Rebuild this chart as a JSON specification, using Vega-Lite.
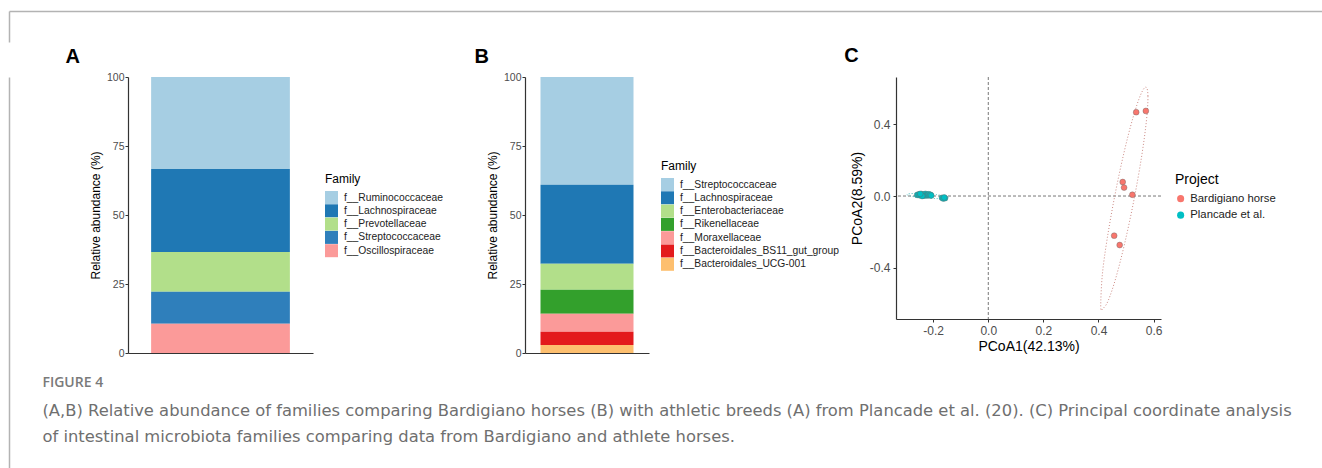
{
  "$schema": "https://vega.github.io/schema/vega-lite/v6.json",
  "padding": {"left": 6, "top": 11, "right": 0, "bottom": 0},
  "background": "#ffffff",
  "config": {
    "view": {"stroke": null},
    "font": "Liberation Sans",
    "axis": {"grid": false, "domainColor": "#333333", "tickColor": "#333333", "labelColor": "#4d4d4d", "titleColor": "#000000", "titleFontWeight": "normal", "labelFont": "Liberation Sans", "titleFont": "Liberation Sans"},
    "legend": {"labelFont": "Liberation Sans", "titleFont": "Liberation Sans", "titleFontWeight": "normal", "labelColor": "#222222", "titleColor": "#000000", "labelLimit": 300}
  },
  "datasets": {
    "famA": [
      {"Sample": "Plancade", "Family": "f__Ruminococcaceae", "Abundance": 33.3, "Rank": 5},
      {"Sample": "Plancade", "Family": "f__Lachnospiraceae", "Abundance": 30.1, "Rank": 4},
      {"Sample": "Plancade", "Family": "f__Prevotellaceae", "Abundance": 14.4, "Rank": 3},
      {"Sample": "Plancade", "Family": "f__Streptococcaceae", "Abundance": 11.6, "Rank": 2},
      {"Sample": "Plancade", "Family": "f__Oscillospiraceae", "Abundance": 10.6, "Rank": 1}
    ],
    "famB": [
      {"Sample": "Bardigiano", "Family": "f__Streptococcaceae", "Abundance": 39.0, "Rank": 7},
      {"Sample": "Bardigiano", "Family": "f__Lachnospiraceae", "Abundance": 28.7, "Rank": 6},
      {"Sample": "Bardigiano", "Family": "f__Enterobacteriaceae", "Abundance": 9.4, "Rank": 5},
      {"Sample": "Bardigiano", "Family": "f__Rikenellaceae", "Abundance": 8.7, "Rank": 4},
      {"Sample": "Bardigiano", "Family": "f__Moraxellaceae", "Abundance": 6.5, "Rank": 3},
      {"Sample": "Bardigiano", "Family": "f__Bacteroidales_BS11_gut_group", "Abundance": 4.8, "Rank": 2},
      {"Sample": "Bardigiano", "Family": "f__Bacteroidales_UCG-001", "Abundance": 2.9, "Rank": 1}
    ],
    "pcoa": [
      {"Project": "Bardigiano horse", "PC1": 0.537, "PC2": 0.467},
      {"Project": "Bardigiano horse", "PC1": 0.572, "PC2": 0.474},
      {"Project": "Bardigiano horse", "PC1": 0.488, "PC2": 0.078},
      {"Project": "Bardigiano horse", "PC1": 0.493, "PC2": 0.047},
      {"Project": "Bardigiano horse", "PC1": 0.523, "PC2": 0.007},
      {"Project": "Bardigiano horse", "PC1": 0.457, "PC2": -0.221},
      {"Project": "Bardigiano horse", "PC1": 0.477, "PC2": -0.273},
      {"Project": "Plancade et al.", "PC1": -0.258, "PC2": 0.006},
      {"Project": "Plancade et al.", "PC1": -0.253, "PC2": 0.009},
      {"Project": "Plancade et al.", "PC1": -0.249, "PC2": 0.004},
      {"Project": "Plancade et al.", "PC1": -0.245, "PC2": 0.008},
      {"Project": "Plancade et al.", "PC1": -0.242, "PC2": 0.011},
      {"Project": "Plancade et al.", "PC1": -0.239, "PC2": 0.005},
      {"Project": "Plancade et al.", "PC1": -0.236, "PC2": 0.002},
      {"Project": "Plancade et al.", "PC1": -0.233, "PC2": 0.009},
      {"Project": "Plancade et al.", "PC1": -0.230, "PC2": 0.006},
      {"Project": "Plancade et al.", "PC1": -0.228, "PC2": 0.012},
      {"Project": "Plancade et al.", "PC1": -0.225, "PC2": 0.003},
      {"Project": "Plancade et al.", "PC1": -0.222, "PC2": 0.008},
      {"Project": "Plancade et al.", "PC1": -0.219, "PC2": 0.005},
      {"Project": "Plancade et al.", "PC1": -0.216, "PC2": 0.010},
      {"Project": "Plancade et al.", "PC1": -0.213, "PC2": 0.004},
      {"Project": "Plancade et al.", "PC1": -0.210, "PC2": 0.007},
      {"Project": "Plancade et al.", "PC1": -0.207, "PC2": 0.003},
      {"Project": "Plancade et al.", "PC1": -0.240, "PC2": 0.000},
      {"Project": "Plancade et al.", "PC1": -0.247, "PC2": 0.012},
      {"Project": "Plancade et al.", "PC1": -0.168, "PC2": -0.010},
      {"Project": "Plancade et al.", "PC1": -0.163, "PC2": -0.014},
      {"Project": "Plancade et al.", "PC1": -0.157, "PC2": -0.012},
      {"Project": "Plancade et al.", "PC1": -0.160, "PC2": -0.008}
    ],
    "ellBard": [
      {"Idx": 0, "PC1": 0.5723, "PC2": 0.6065},
      {"Idx": 1, "PC1": 0.5796, "PC2": 0.5555},
      {"Idx": 2, "PC1": 0.5740, "PC2": 0.4184},
      {"Idx": 3, "PC1": 0.5562, "PC2": 0.2160},
      {"Idx": 4, "PC1": 0.5289, "PC2": -0.0209},
      {"Idx": 5, "PC1": 0.4963, "PC2": -0.2560},
      {"Idx": 6, "PC1": 0.4633, "PC2": -0.4547},
      {"Idx": 7, "PC1": 0.4349, "PC2": -0.5842},
      {"Idx": 8, "PC1": 0.4157, "PC2": -0.6270},
      {"Idx": 9, "PC1": 0.4083, "PC2": -0.6188},
      {"Idx": 10, "PC1": 0.4140, "PC2": -0.4389},
      {"Idx": 11, "PC1": 0.4318, "PC2": -0.2365},
      {"Idx": 12, "PC1": 0.4591, "PC2": 0.0004},
      {"Idx": 13, "PC1": 0.4917, "PC2": 0.2355},
      {"Idx": 14, "PC1": 0.5247, "PC2": 0.4333},
      {"Idx": 15, "PC1": 0.5530, "PC2": 0.5637}
    ],
    "ellPlan": [
      {"Idx": 0, "PC1": -0.145, "PC2": -0.008},
      {"Idx": 1, "PC1": -0.155, "PC2": -0.0009},
      {"Idx": 2, "PC1": -0.1825, "PC2": 0.0064},
      {"Idx": 3, "PC1": -0.220, "PC2": 0.012},
      {"Idx": 4, "PC1": -0.2575, "PC2": 0.0144},
      {"Idx": 5, "PC1": -0.285, "PC2": 0.0129},
      {"Idx": 6, "PC1": -0.295, "PC2": 0.008},
      {"Idx": 7, "PC1": -0.285, "PC2": 0.0009},
      {"Idx": 8, "PC1": -0.2575, "PC2": -0.0064},
      {"Idx": 9, "PC1": -0.220, "PC2": -0.012},
      {"Idx": 10, "PC1": -0.1825, "PC2": -0.0144},
      {"Idx": 11, "PC1": -0.155, "PC2": -0.0129}
    ]
  },
  "resolve": {"scale": {"x": "independent", "y": "independent", "color": "independent"}, "legend": {"color": "independent"}, "axis": {"x": "independent", "y": "independent"}},
  "spacing": 0,
  "vconcat": [
    {
      "width": 1313,
      "height": 31,
      "data": {"values": [{"v": 0}]},
      "mark": {"type": "point", "opacity": 0},
      "encoding": {
        "x": {"field": "v", "type": "quantitative", "scale": {"domain": [0, 1]}, "axis": {"orient": "top", "labels": false, "ticks": false, "title": null, "domainColor": "#b3b3b3", "domainWidth": 1.5}},
        "y": {"field": "v", "type": "quantitative", "scale": {"domain": [0, 1]}, "axis": {"orient": "left", "labels": false, "ticks": false, "title": null, "domainColor": "#b3b3b3", "domainWidth": 1.5}}
      }
    },
    {
      "spacing": 30,
      "resolve": {"scale": {"x": "independent", "y": "independent", "color": "independent"}, "legend": {"color": "independent"}, "axis": {"x": "independent", "y": "independent"}},
      "hconcat": [
        {
          "width": 0.01,
          "height": 424,
          "data": {"values": [{"v": 0}]},
          "mark": {"type": "point", "opacity": 0},
          "encoding": {
            "y": {"field": "v", "type": "quantitative", "scale": {"domain": [0, 1]}, "axis": {"orient": "left", "labels": false, "ticks": false, "title": null, "domainColor": "#b3b3b3", "domainWidth": 1.5}}
          }
        },
        {
          "title": {
            "text": "FIGURE 4",
            "subtitle": [
              "(A,B) Relative abundance of families comparing Bardigiano horses (B) with athletic breeds (A) from Plancade et al. (20). (C) Principal coordinate analysis",
              "of intestinal microbiota families comparing data from Bardigiano and athlete horses."
            ],
            "orient": "bottom",
            "anchor": "start",
            "frame": "bounds",
            "dx": -23,
            "offset": 17,
            "font": "Open Sans",
            "fontSize": 14,
            "fontWeight": 600,
            "color": "#7a7a7a",
            "subtitleFont": "DejaVu Sans",
            "subtitleFontSize": 16.35,
            "subtitleColor": "#6f6f6f",
            "subtitleLineHeight": 26,
            "subtitlePadding": 13
          },
          "spacing": 5,
          "resolve": {"scale": {"x": "independent", "y": "independent", "color": "independent"}, "legend": {"color": "independent"}},
          "hconcat": [
            {
              "spacing": 30,
              "resolve": {"scale": {"color": "independent", "x": "independent", "y": "independent"}, "legend": {"color": "independent"}},
              "hconcat": [
                {
                  "title": {"text": "A", "anchor": "start", "frame": "bounds", "fontSize": 20, "fontWeight": "bold", "color": "#000000", "dx": -24, "offset": 5},
                  "width": 185,
                  "height": 276,
                  "data": {"name": "famA"},
                  "mark": {"type": "bar"},
                  "encoding": {
                    "x": {"field": "Sample", "type": "nominal", "scale": {"paddingInner": 0.25, "paddingOuter": 0.125}, "axis": {"labels": false, "ticks": false, "title": null, "domainWidth": 1.2}},
                    "y": {"field": "Abundance", "type": "quantitative", "stack": "zero", "scale": {"domain": [0, 100], "nice": false}, "axis": {"values": [0, 25, 50, 75, 100], "title": "Relative abundance (%)", "titleFontSize": 12, "titlePadding": 4, "labelFontSize": 10.5, "tickSize": 3, "labelPadding": 1, "domainWidth": 1.2}},
                    "color": {"field": "Family", "type": "nominal", "scale": {"domain": ["f__Ruminococcaceae", "f__Lachnospiraceae", "f__Prevotellaceae", "f__Streptococcaceae", "f__Oscillospiraceae"], "range": ["#a6cee3", "#1f78b4", "#b2df8a", "#2f7fbb", "#fb9a99"]}, "legend": {"title": "Family", "orient": "none", "legendX": 197, "legendY": 97, "titleFontSize": 12, "labelFontSize": 10.3, "symbolType": "square", "symbolSize": 169, "symbolStrokeWidth": 0, "rowPadding": 0.3, "labelOffset": 6, "titlePadding": 5}},
                    "order": {"field": "Rank", "type": "quantitative", "sort": "ascending"}
                  }
                },
                {
                  "title": {"text": "B", "anchor": "start", "frame": "bounds", "fontSize": 20, "fontWeight": "bold", "color": "#000000", "dx": -12, "offset": 5},
                  "width": 124,
                  "height": 276,
                  "data": {"name": "famB"},
                  "mark": {"type": "bar"},
                  "encoding": {
                    "x": {"field": "Sample", "type": "nominal", "scale": {"paddingInner": 0.25, "paddingOuter": 0.125}, "axis": {"labels": false, "ticks": false, "title": null, "domainWidth": 1.2}},
                    "y": {"field": "Abundance", "type": "quantitative", "stack": "zero", "scale": {"domain": [0, 100], "nice": false}, "axis": {"values": [0, 25, 50, 75, 100], "title": "Relative abundance (%)", "titleFontSize": 12, "titlePadding": 4, "labelFontSize": 10.5, "tickSize": 3, "labelPadding": 1, "domainWidth": 1.2}},
                    "color": {"field": "Family", "type": "nominal", "scale": {"domain": ["f__Streptococcaceae", "f__Lachnospiraceae", "f__Enterobacteriaceae", "f__Rikenellaceae", "f__Moraxellaceae", "f__Bacteroidales_BS11_gut_group", "f__Bacteroidales_UCG-001"], "range": ["#a6cee3", "#1f78b4", "#b2df8a", "#33a02c", "#fb9a99", "#e31a1c", "#fdbf6f"]}, "legend": {"title": "Family", "orient": "none", "legendX": 136, "legendY": 84, "titleFontSize": 12, "labelFontSize": 10.3, "symbolType": "square", "symbolSize": 169, "symbolStrokeWidth": 0, "rowPadding": 0.3, "labelOffset": 6, "titlePadding": 5}},
                    "order": {"field": "Rank", "type": "quantitative", "sort": "ascending"}
                  }
                }
              ]
            },
            {
              "title": {"text": "C", "anchor": "start", "frame": "bounds", "fontSize": 20, "fontWeight": "bold", "color": "#000000", "dx": -6, "offset": 11},
              "width": 265,
              "height": 242,
              "layer": [
                {
                  "data": {"values": [{"v": 0}]},
                  "mark": {"type": "rule", "color": "#555555", "strokeDash": [3, 2], "strokeWidth": 0.8},
                  "encoding": {"x": {"field": "v", "type": "quantitative", "scale": {"domain": [-0.335, 0.627], "nice": false, "zero": false}}}
                },
                {
                  "data": {"values": [{"v": 0}]},
                  "mark": {"type": "rule", "color": "#555555", "strokeDash": [3, 2], "strokeWidth": 0.8},
                  "encoding": {"y": {"field": "v", "type": "quantitative", "scale": {"domain": [-0.685, 0.663], "nice": false, "zero": false}}}
                },
                {
                  "data": {"name": "ellBard"},
                  "mark": {"type": "line", "interpolate": "cardinal-closed", "strokeDash": [1, 2], "strokeWidth": 1, "color": "#cc8a84"},
                  "encoding": {
                    "x": {"field": "PC1", "type": "quantitative"},
                    "y": {"field": "PC2", "type": "quantitative"},
                    "order": {"field": "Idx", "type": "quantitative"}
                  }
                },
                {
                  "data": {"name": "ellPlan"},
                  "mark": {"type": "line", "interpolate": "cardinal-closed", "strokeDash": [1, 2], "strokeWidth": 1, "color": "#52bfc1"},
                  "encoding": {
                    "x": {"field": "PC1", "type": "quantitative"},
                    "y": {"field": "PC2", "type": "quantitative"},
                    "order": {"field": "Idx", "type": "quantitative"}
                  }
                },
                {
                  "data": {"name": "pcoa"},
                  "mark": {"type": "point", "filled": true, "size": 34, "stroke": "#666666", "strokeWidth": 0.4, "opacity": 1},
                  "encoding": {
                    "x": {"field": "PC1", "type": "quantitative", "title": "PCoA1(42.13%)", "axis": {"values": [-0.2, 0, 0.2, 0.4, 0.6], "labelExpr": "replace(format(datum.value, '.1f'), '−', '-')", "labelFontSize": 12, "titleFontSize": 14, "tickSize": 3, "labelPadding": 3, "titlePadding": 3, "domainWidth": 1.2}},
                    "y": {"field": "PC2", "type": "quantitative", "title": "PCoA2(8.59%)", "axis": {"values": [-0.4, 0, 0.4], "labelExpr": "replace(format(datum.value, '.1f'), '−', '-')", "labelFontSize": 12, "titleFontSize": 14, "tickSize": 3, "labelPadding": 3, "titlePadding": 5, "domainWidth": 1.2}},
                    "color": {"field": "Project", "type": "nominal", "scale": {"domain": ["Bardigiano horse", "Plancade et al."], "range": ["#F8766D", "#00BFC4"]}, "legend": {"title": "Project", "orient": "none", "legendX": 279, "legendY": 96, "titleFontSize": 14, "labelFontSize": 11.3, "symbolType": "circle", "symbolSize": 50, "symbolStrokeWidth": 0, "rowPadding": 4.5, "labelOffset": 4, "titlePadding": 6}}
                  }
                }
              ]
            }
          ]
        }
      ]
    }
  ]
}
